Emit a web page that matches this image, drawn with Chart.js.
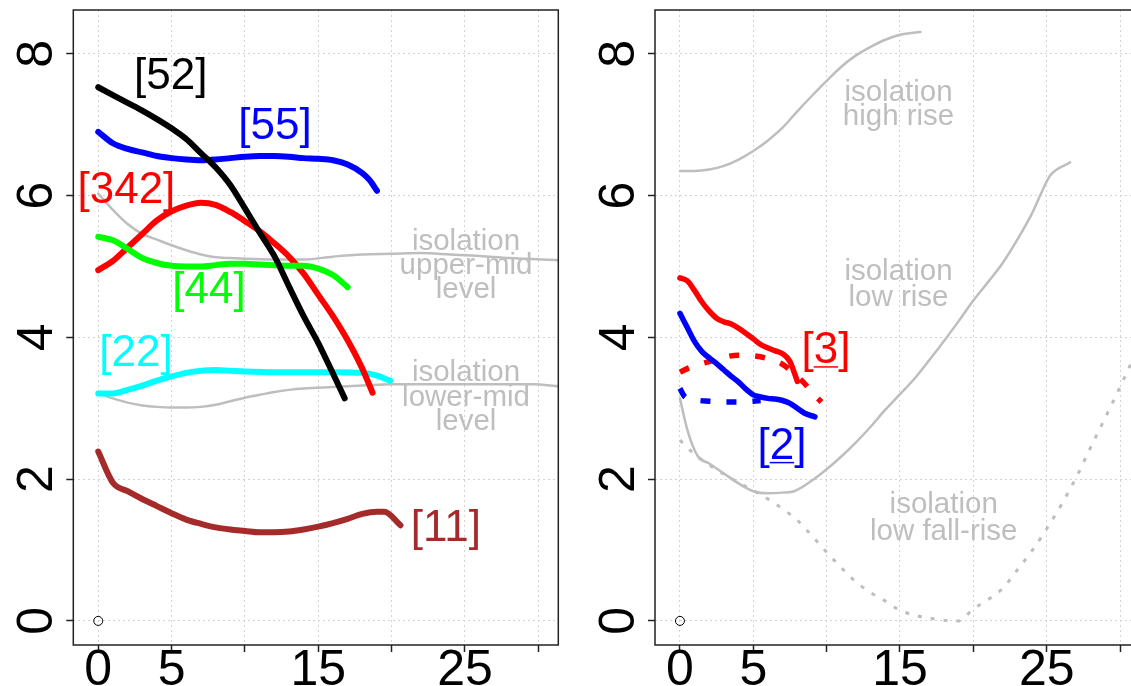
<!DOCTYPE html>
<html>
<head>
<meta charset="utf-8">
<script src="https://cdn.jsdelivr.net/npm/chart.js@4.4.0/dist/chart.umd.min.js"></script>
<style>
  html, body { margin: 0; padding: 0; background: #fff; overflow: hidden; }
  #wrap { position: relative; width: 1131px; height: 686px; overflow: hidden; }
  #left { position: absolute; left: 0; top: 0; }
  #right { position: absolute; left: 570px; top: 0; }
</style>
</head>
<body>
<div id="wrap">
  <canvas id="left" width="570" height="686"></canvas>
  <canvas id="right" width="580" height="686"></canvas>
</div>
<script>
// tick labels
const xTickLabels = [0, 5, 15, 25];
const yTickLabels = [0, 2, 4, 6, 8];

// left panel series
const x52 = [0, 1, 2, 3, 4, 5, 6, 7, 8, 9, 10, 11, 12, 13, 14, 15, 16, 16.8];
const y52 = [7.53, 7.42, 7.31, 7.2, 7.08, 6.95, 6.8, 6.6, 6.4, 6.15, 5.82, 5.48, 5.15, 4.72, 4.3, 3.92, 3.49, 3.14];

const x55 = [0, 1, 2, 3, 4, 5, 6, 7, 8, 9, 10, 11, 12, 13, 14, 15, 16, 17, 18, 18.5, 19];
const y55 = [6.9, 6.74, 6.66, 6.61, 6.56, 6.53, 6.51, 6.5, 6.51, 6.53, 6.55, 6.56, 6.56, 6.55, 6.53, 6.52, 6.5, 6.44, 6.32, 6.22, 6.07];

const x342 = [0, 1, 2, 3, 4, 5, 6, 7, 8, 9, 10, 11, 12, 13, 14, 15, 16, 17, 18, 18.7];
const y342 = [4.95, 5.08, 5.27, 5.46, 5.65, 5.78, 5.86, 5.9, 5.87, 5.77, 5.64, 5.5, 5.33, 5.14, 4.9, 4.6, 4.3, 3.96, 3.56, 3.22];

const x44 = [0, 1, 2, 3, 4, 5, 6, 7, 8, 9, 10, 11, 12, 13, 14, 15, 16, 17];
const y44 = [5.42, 5.37, 5.25, 5.12, 5.05, 5.01, 5.0, 5.0, 5.02, 5.04, 5.04, 5.03, 5.02, 5.01, 5.01, 4.97, 4.88, 4.71];

const x22 = [0, 1, 2, 3, 4, 5, 6, 7, 8, 9, 10, 12, 14, 16, 18, 19, 19.9];
const y22 = [3.21, 3.21, 3.26, 3.32, 3.39, 3.45, 3.5, 3.53, 3.54, 3.53, 3.52, 3.51, 3.51, 3.51, 3.5, 3.46, 3.39];

const x11 = [0, 1, 2, 3, 4, 5, 6, 7, 8, 9, 10, 11, 12, 13, 14, 15, 16, 17, 18, 19, 19.5, 20.6];
const y11 = [2.39, 1.95, 1.83, 1.72, 1.62, 1.52, 1.43, 1.37, 1.32, 1.29, 1.27, 1.25, 1.25, 1.26, 1.29, 1.33, 1.38, 1.44, 1.51, 1.54, 1.54, 1.35];

const xUpperMid = [0, 1, 2, 3, 4, 5, 6, 7, 8, 9, 10, 12, 14, 16, 18, 20, 22, 24, 26, 28, 31.4];
const yUpperMid = [6.03, 5.8, 5.6, 5.46, 5.38, 5.3, 5.23, 5.17, 5.13, 5.12, 5.11, 5.1, 5.1, 5.14, 5.17, 5.18, 5.19, 5.17, 5.15, 5.12, 5.09];

const xLowerMid = [0, 1, 2, 3, 4, 5, 6, 7, 8, 9, 10, 11, 12, 13, 14, 16, 18, 20, 25, 29.6, 31.4];
const yLowerMid = [3.21, 3.14, 3.08, 3.04, 3.02, 3.01, 3.01, 3.02, 3.05, 3.1, 3.15, 3.19, 3.23, 3.26, 3.28, 3.3, 3.32, 3.34, 3.34, 3.34, 3.31];

// right panel series
const xHighRise = [0, 1, 2, 3, 4, 5, 6, 7, 8, 9, 10, 11, 12, 13, 14, 15, 16.4];
const yHighRise = [6.35, 6.35, 6.37, 6.42, 6.51, 6.63, 6.78, 6.96, 7.19, 7.41, 7.62, 7.82, 7.98, 8.1, 8.2, 8.27, 8.31];

const xLowRise = [0, 0.5, 1.2, 2, 3, 4, 5, 6, 7, 7.8, 9, 10, 11, 12, 13, 14, 15, 16, 17, 18, 19, 20, 21, 22, 23, 24, 25, 25.3, 26.6];
const yLowRise = [3.14, 2.7, 2.33, 2.22, 2.08, 1.94, 1.83, 1.8, 1.81, 1.83, 1.98, 2.14, 2.32, 2.52, 2.74, 2.98, 3.2, 3.42, 3.68, 3.95, 4.23, 4.52, 4.78, 5.05, 5.38, 5.75, 6.2, 6.3, 6.47];

const xFallRise = [0, 1, 2, 3, 4, 5, 6, 7, 8, 9, 10, 11, 12, 13, 14, 15, 16, 17, 18, 19, 20, 21, 22, 23, 24, 25, 26, 27, 28, 29, 30, 31.3];
const yFallRise = [2.55, 2.35, 2.2, 2.07, 1.95, 1.84, 1.72, 1.58, 1.42, 1.2, 0.97, 0.75, 0.55, 0.4, 0.28, 0.15, 0.08, 0.04, 0.01, 0.0, 0.17, 0.3, 0.46, 0.72, 0.99, 1.3, 1.64, 2.02, 2.45, 2.87, 3.3, 3.88];

const x3 = [0, 0.5, 1, 1.5, 2, 2.5, 3, 3.5, 4, 5, 5.5, 6, 6.5, 7, 7.5, 7.8, 8];
const y3 = [4.84, 4.8, 4.66, 4.5, 4.37, 4.27, 4.22, 4.19, 4.13, 3.98, 3.9, 3.85, 3.81, 3.77, 3.66, 3.5, 3.38];

const x3b = [0, 0.5, 1, 2, 3, 4, 5, 6, 7, 8, 8.5, 9, 9.65];
const y3b = [3.51, 3.56, 3.6, 3.66, 3.72, 3.75, 3.74, 3.7, 3.62, 3.45, 3.35, 3.22, 3.09];

const x2 = [0, 0.5, 1, 1.5, 2, 2.5, 3, 3.5, 4, 4.5, 5, 5.5, 6, 6.5, 7, 7.5, 8, 8.5, 9.2];
const y2 = [4.34, 4.14, 3.94, 3.8, 3.71, 3.63, 3.54, 3.45, 3.37, 3.27, 3.19, 3.16, 3.14, 3.13, 3.11, 3.07, 3.0, 2.93, 2.88];

const x2b = [0, 0.3, 1, 2, 3, 4, 5, 5.5];
const y2b = [3.28, 3.17, 3.12, 3.1, 3.09, 3.09, 3.1, 3.11];

const GRAY = '#bebebe';
const FONT = "'Liberation Sans', Arial, sans-serif";

function line(xs, ys, color, width, dash) {
    return {
        data: xs.map((x, i) => ({x: x, y: ys[i]})),
        showLine: true,
        borderColor: color,
        borderWidth: width,
        borderDash: dash || [],
        borderCapStyle: dash ? 'butt' : 'round',
        borderJoinStyle: 'round',
        pointRadius: 0,
        cubicInterpolationMode: 'monotone',
        fill: false
    };
}

const origin = {
    data: [{x: 0, y: 0}],
    showLine: false,
    pointRadius: 4.5,
    pointBorderWidth: 1,
    pointBorderColor: '#000',
    pointBackgroundColor: 'rgba(0,0,0,0)'
};

// box, rotated y labels and text annotations
const framePlugin = {
    id: 'frame',
    afterDraw(chart, args, opts) {
        const ctx = chart.ctx;
        const a = chart.chartArea;
        const xs = chart.scales.x, ys = chart.scales.y;
        ctx.save();
        ctx.strokeStyle = '#222';
        ctx.lineWidth = 1.5;
        ctx.strokeRect(a.left, a.top, a.right - a.left, a.bottom - a.top);

        ctx.fillStyle = '#000';
        ctx.font = '50px ' + FONT;
        ctx.textAlign = 'center';
        ctx.textBaseline = 'alphabetic';
        yTickLabels.forEach(v => {
            ctx.save();
            ctx.translate(a.left - 21, ys.getPixelForValue(v));
            ctx.rotate(-Math.PI / 2);
            ctx.fillText(String(v), 0, 0);
            ctx.restore();
        });

        opts.labels.forEach(l => {
            ctx.fillStyle = l.color;
            ctx.font = l.size + 'px ' + FONT;
            const px = xs.getPixelForValue(l.x);
            const py = ys.getPixelForValue(l.y);
            l.lines.forEach((t, i) => ctx.fillText(t, px, py + i * (l.gap || 0)));
            if (l.underline) {
                const t = l.lines[0];
                const w = ctx.measureText(t).width;
                const wb = ctx.measureText('[').width;
                const wd = ctx.measureText(t.slice(1, -1)).width;
                const x0 = px - w / 2 + wb;
                ctx.strokeStyle = l.color;
                ctx.lineWidth = 1.5;
                ctx.beginPath();
                ctx.moveTo(x0, py + 4);
                ctx.lineTo(x0 + wd, py + 4);
                ctx.stroke();
            }
        });
        ctx.restore();
    }
};

function makeOptions(yWidth, padRight, labels) {
    return {
        responsive: false,
        animation: false,
        layout: { padding: { top: 10, right: padRight, left: 0, bottom: 0 } },
        plugins: {
            legend: { display: false },
            tooltip: { enabled: false },
            frame: { labels: labels }
        },
        scales: {
            x: {
                type: 'linear',
                min: -1.7,
                max: 31.36,
                afterFit: s => { s.height = 41; },
                grid: { color: '#d3d3d3', lineWidth: 1, tickLength: 7, tickColor: '#222', tickWidth: 1.5 },
                border: { display: false, dash: [2, 3] },
                ticks: {
                    stepSize: 5,
                    includeBounds: false,
                    autoSkip: false,
                    maxRotation: 0,
                    minRotation: 0,
                    padding: -11,
                    color: '#000',
                    font: { size: 50, family: FONT },
                    callback: v => xTickLabels.includes(v) ? String(v) : ''
                }
            },
            y: {
                type: 'linear',
                min: -0.34,
                max: 8.62,
                afterFit: s => { s.width = yWidth; },
                grid: { color: '#d3d3d3', lineWidth: 1, tickLength: 7, tickColor: '#222', tickWidth: 1.5 },
                border: { display: false, dash: [2, 3] },
                ticks: { stepSize: 2, includeBounds: false, display: false }
            }
        }
    };
}

const leftLabels = [
    {lines: ['[52]'], x: 4.94, y: 7.5, color: '#000', size: 44},
    {lines: ['[55]'], x: 12.05, y: 6.8, color: '#0000ff', size: 44},
    {lines: ['[342]'], x: 1.92, y: 5.89, color: '#ff0000', size: 44},
    {lines: ['[44]'], x: 7.55, y: 4.48, color: '#00ff00', size: 44},
    {lines: ['[22]'], x: 2.57, y: 3.6, color: '#00ffff', size: 44},
    {lines: ['[11]'], x: 23.7, y: 1.13, color: '#a52a2a', size: 44},
    {lines: ['isolation', 'upper-mid', 'level'], x: 25.07, y: 5.23, gap: 24, color: GRAY, size: 29.5},
    {lines: ['isolation', 'lower-mid', 'level'], x: 25.07, y: 3.38, gap: 24.5, color: GRAY, size: 29.5}
];

const rightLabels = [
    {lines: ['[3]'], x: 9.95, y: 3.64, color: '#ff0000', size: 44, underline: true},
    {lines: ['[2]'], x: 6.95, y: 2.29, color: '#0000ff', size: 44, underline: true},
    {lines: ['isolation', 'high rise'], x: 14.9, y: 7.33, gap: 24, color: GRAY, size: 29.5},
    {lines: ['isolation', 'low rise'], x: 14.9, y: 4.81, gap: 26, color: GRAY, size: 29.5},
    {lines: ['isolation', 'low fall-rise'], x: 17.98, y: 1.52, gap: 27, color: GRAY, size: 29.5}
];

new Chart(document.getElementById('left'), {
    type: 'scatter',
    data: {
        datasets: [
            line(x52, y52, '#000000', 6),
            line(x55, y55, '#0000ff', 6),
            line(x44, y44, '#00ff00', 6),
            line(x342, y342, '#ff0000', 6),
            line(x22, y22, '#00ffff', 6),
            line(x11, y11, '#a52a2a', 6),
            line(xUpperMid, yUpperMid, GRAY, 2.5),
            line(xLowerMid, yLowerMid, GRAY, 2.5),
            origin
        ]
    },
    options: makeOptions(73.3, 11.7, leftLabels),
    plugins: [framePlugin]
});

new Chart(document.getElementById('right'), {
    type: 'scatter',
    data: {
        datasets: [
            line(x3, y3, '#ff0000', 5.5),
            line(x2, y2, '#0000ff', 5.5),
            line(x3b, y3b, '#ff0000', 5.5, [10, 16]),
            line(x2b, y2b, '#0000ff', 5.5, [10, 16]),
            line(xHighRise, yHighRise, GRAY, 2.5),
            line(xLowRise, yLowRise, GRAY, 2.5),
            line(xFallRise, yFallRise, GRAY, 3, [4, 9]),
            origin
        ]
    },
    options: makeOptions(85, 10, rightLabels),
    plugins: [framePlugin]
});
</script>
</body>
</html>
